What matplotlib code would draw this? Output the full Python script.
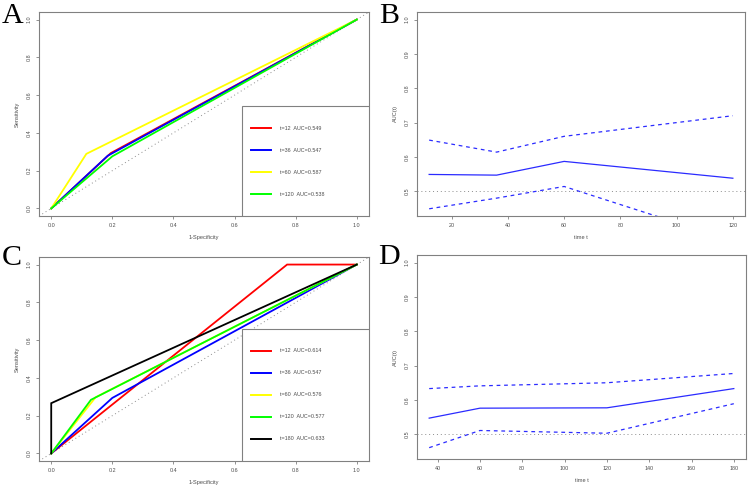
"""Time-dependent ROC curves (A, C) and AUC(t) with confidence bands (B, D)."""

import matplotlib
matplotlib.use("Agg")
import matplotlib.pyplot as plt
from matplotlib.lines import Line2D
from matplotlib.patches import Rectangle

plt.rcParams["font.family"] = ["Liberation Sans", "DejaVu Sans"]

# ---------------------------------------------------------------------------
# Data
# ---------------------------------------------------------------------------

# panel A: ROC curves for the training set
a_times = [12, 36, 60, 120]
a_auc = [0.549, 0.547, 0.587, 0.538]
a_fpr = [[0, 0.195, 1], [0, 0.185, 1], [0, 0.115, 1], [0, 0.200, 1]]
a_tpr = [[0, 0.293, 1], [0, 0.279, 1], [0, 0.289, 1], [0, 0.276, 1]]
a_colors = ["#ff0000", "#0000ff", "#ffff00", "#00ff00"]

# panel B: AUC(t) with 95% band
b_times = [12, 36, 60, 120]
b_auc = [0.549, 0.547, 0.587, 0.538]
b_upper = [0.649, 0.614, 0.660, 0.720]
b_lower = [0.449, 0.480, 0.514, 0.356]

# panel C: ROC curves for the validation set
c_times = [12, 36, 60, 120, 180]
c_auc = [0.614, 0.547, 0.576, 0.577, 0.633]
c_fpr = [[0, 0.772, 1], [0, 0.200, 1], [0, 0.145, 1], [0, 0.130, 1], [0, 0.0, 1]]
c_tpr = [[0, 1.0, 1], [0, 0.294, 1], [0, 0.297, 1], [0, 0.284, 1], [0, 0.266, 1]]
c_colors = ["#ff0000", "#0000ff", "#ffff00", "#00ff00", "#000000"]

# panel D: AUC(t) with 95% band
d_times = [36, 60, 120, 180]
d_auc = [0.547, 0.576, 0.577, 0.633]
d_upper = [0.633, 0.641, 0.650, 0.677]
d_lower = [0.461, 0.511, 0.503, 0.589]

W, H = 750, 487
BOX = "#808080"
TXT = "#4d4d4d"
SMALL = 3.9
DOTTED = (0, (1, 3))


def px_axes(fig, left, right, top, bottom):
    """Axes placed by pixel edges (origin top-left)."""
    return fig.add_axes([left / W, 1 - bottom / H, (right - left) / W, (bottom - top) / H])


def r_lim(lo, hi):
    pad = 0.04 * (hi - lo)
    return lo - pad, hi + pad


def style_axes(ax, xlabel, ylabel, xticks, yticks):
    for sp in ax.spines.values():
        sp.set_color(BOX)
        sp.set_linewidth(0.8)
    ax.set_xticks(xticks)
    ax.set_yticks(yticks)
    ax.set_xticklabels([f"{t:g}" if isinstance(t, int) else f"{t:.1f}" for t in xticks])
    ax.set_yticklabels([f"{t:.1f}" for t in yticks], rotation=90, va="center")
    ax.tick_params(axis="both", direction="out", length=2.4, width=0.6,
                   color=BOX, labelcolor=TXT, labelsize=SMALL, pad=2.6)
    ax.set_xlabel(xlabel, fontsize=SMALL + 0.2, color=TXT)
    ax.set_ylabel(ylabel, fontsize=SMALL + 0.2, color=TXT)
    ax.xaxis.set_label_coords(0.5, -21.7 / 204)
    ax.yaxis.set_label_coords(-22.0 / 330, 0.5)
    ax.xaxis.label.set_va("center")
    ax.yaxis.label.set_va("center")


def roc_panel(ax, times, aucs, fprs, tprs, colors):
    ax.axline((0, 0), (1, 1), color="#8c8c8c", linestyle=DOTTED, linewidth=0.7)
    for f, t, c in zip(fprs, tprs, colors):
        ax.plot(f, t, color=c, linewidth=1.3, solid_joinstyle="miter")
    ax.set_xlim(*r_lim(0, 1))
    ax.set_ylim(*r_lim(0, 1))
    ticks = [0.0, 0.2, 0.4, 0.6, 0.8, 1.0]
    style_axes(ax, "1-Specificity", "Sensitivity", ticks, ticks)
    ax.set_xticklabels([f"{t:.1f}" for t in ticks])

    # R-style legend box anchored to the lower-right corner
    row = 22 / 204
    n = len(times)
    ax.add_patch(Rectangle((0.615, 0), 0.385, (n + 1) * row, transform=ax.transAxes,
                           facecolor="white", edgecolor=BOX, linewidth=0.8, zorder=5))
    for i, (tm, au, c) in enumerate(zip(times, aucs, colors)):
        y = (n - i) * row
        ax.add_line(Line2D([0.642, 0.703], [y, y], transform=ax.transAxes,
                           color=c, linewidth=1.4, zorder=6))
        ax.text(0.730, y, f"t={tm}  AUC={au:.3f}", transform=ax.transAxes,
                fontsize=SMALL, color=TXT, va="center", ha="left", zorder=6)


def auc_panel(ax, times, aucs, upper, lower, xticks):
    ax.axhline(0.5, color="#8c8c8c", linestyle=DOTTED, linewidth=0.7)
    ax.plot(times, aucs, color="#2b2bff", linewidth=0.9)
    ax.plot(times, upper, color="#2b2bff", linewidth=0.9, linestyle=(0, (3, 3)))
    ax.plot(times, lower, color="#2b2bff", linewidth=0.9, linestyle=(0, (3, 3)))
    ax.set_xlim(*r_lim(min(times), max(times)))
    ax.set_ylim(*r_lim(0.45, 1.0))
    style_axes(ax, "time t", "AUC(t)", xticks, [0.5, 0.6, 0.7, 0.8, 0.9, 1.0])


fig = plt.figure(figsize=(W / 100, H / 100), dpi=100)

ax_a = px_axes(fig, 39, 369, 12, 216)
roc_panel(ax_a, a_times, a_auc, a_fpr, a_tpr, a_colors)

ax_b = px_axes(fig, 417, 745, 12, 216)
auc_panel(ax_b, b_times, b_auc, b_upper, b_lower, [20, 40, 60, 80, 100, 120])

ax_c = px_axes(fig, 39, 369, 257, 461)
roc_panel(ax_c, c_times, c_auc, c_fpr, c_tpr, c_colors)

ax_d = px_axes(fig, 417, 746, 255, 459)
auc_panel(ax_d, d_times, d_auc, d_upper, d_lower, [40, 60, 80, 100, 120, 140, 160, 180])

for letter, x, y in [("A", 1.5, 23.3), ("B", 379, 23.3), ("C", 1.5, 265), ("D", 378, 264)]:
    fig.text(x / W, 1 - y / H, letter, fontsize=21.6, family="Liberation Serif",
             ha="left", va="baseline", color="black")

fig.savefig("out.png", dpi=100)
